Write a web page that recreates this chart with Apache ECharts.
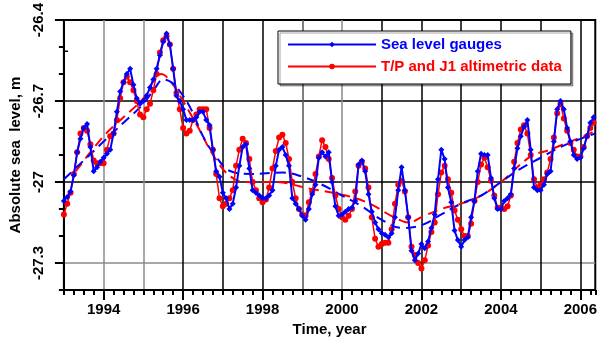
<!DOCTYPE html>
<html>
<head>
<meta charset="utf-8">
<script src="https://cdn.jsdelivr.net/npm/echarts@6/dist/echarts.min.js"></script>
<style>
html,body{margin:0;padding:0;background:#fff;}
#chart{width:600px;height:343px;}
</style>
</head>
<body>
<div id="chart"></div>
<script>
// ---- data (monthly values, starting January 1993) ----
const startYear = 1993;
const gauges = [
-27.07,-27.055,-27.035,-26.975,-26.89,-26.84,-26.80,-26.785,-26.87,-26.96,-26.945,-26.925,
-26.91,-26.895,-26.88,-26.82,-26.74,-26.665,-26.63,-26.60,-26.58,-26.64,-26.69,-26.71,
-26.70,-26.68,-26.65,-26.62,-26.58,-26.53,-26.48,-26.45,-26.49,-26.58,-26.68,-26.70,
-26.73,-26.77,-26.77,-26.77,-26.76,-26.74,-26.74,-26.77,-26.79,-26.88,-26.96,-26.98,
-27.04,-27.06,-27.10,-27.08,-27.02,-26.94,-26.87,-26.86,-26.95,-27.03,-27.04,-27.05,
-27.06,-27.06,-27.05,-27.03,-26.94,-26.88,-26.87,-26.90,-26.94,-27.06,-27.08,-27.10,
-27.125,-27.14,-27.10,-27.045,-27.01,-26.91,-26.89,-26.905,-26.89,-27.00,-27.09,-27.125,
-27.12,-27.11,-27.10,-27.095,-27.07,-26.935,-26.92,-26.96,-27.045,-27.11,-27.15,-27.175,
-27.19,-27.195,-27.205,-27.19,-27.13,-27.03,-26.945,-27.03,-27.13,-27.255,-27.29,-27.265,
-27.23,-27.245,-27.22,-27.17,-27.12,-26.99,-26.88,-26.915,-27.02,-27.075,-27.18,-27.215,
-27.24,-27.215,-27.205,-27.13,-27.07,-26.96,-26.895,-26.90,-26.90,-26.985,-27.06,-27.10,
-27.10,-27.07,-27.06,-27.045,-26.95,-26.875,-26.83,-26.795,-26.77,-26.88,-27.02,-27.03,
-27.03,-27.01,-26.97,-26.96,-26.85,-26.73,-26.70,-26.73,-26.80,-26.85,-26.90,-26.915,
-26.91,-26.875,-26.83,-26.78,-26.76
];
const altimetry = [
-27.12,-27.08,-27.04,-26.97,-26.89,-26.82,-26.80,-26.81,-26.86,-26.92,-26.93,-26.93,
-26.93,-26.88,-26.83,-26.82,-26.77,-26.69,-26.63,-26.61,-26.63,-26.66,-26.70,-26.75,
-26.76,-26.73,-26.71,-26.66,-26.60,-26.52,-26.475,-26.46,-26.49,-26.58,-26.67,-26.73,
-26.80,-26.82,-26.81,-26.77,-26.75,-26.73,-26.73,-26.73,-26.80,-26.88,-26.97,-27.06,
-27.09,-27.08,-27.06,-27.03,-26.94,-26.88,-26.84,-26.855,-26.915,-27.00,-27.03,-27.06,
-27.075,-27.065,-27.02,-26.95,-26.885,-26.835,-26.825,-26.855,-26.915,-27.00,-27.06,-27.10,
-27.12,-27.125,-27.075,-27.035,-26.97,-26.905,-26.845,-26.87,-26.915,-26.985,-27.05,-27.10,
-27.13,-27.14,-27.125,-27.10,-27.035,-26.94,-26.925,-26.95,-27.02,-27.13,-27.21,-27.24,
-27.23,-27.225,-27.225,-27.175,-27.08,-27.01,-26.995,-27.035,-27.13,-27.24,-27.27,-27.30,
-27.32,-27.29,-27.235,-27.185,-27.15,-27.045,-26.965,-26.94,-26.99,-27.04,-27.105,-27.14,
-27.175,-27.20,-27.20,-27.155,-27.07,-27.00,-26.935,-26.91,-26.945,-26.995,-27.05,-27.095,
-27.095,-27.10,-27.09,-27.05,-26.925,-26.855,-26.805,-26.79,-26.82,-26.90,-26.99,-27.02,
-27.01,-26.99,-26.965,-26.915,-26.835,-26.745,-26.71,-26.765,-26.81,-26.855,-26.88,-26.905,
-26.905,-26.87,-26.83,-26.80,-26.78
];
// smoothed trend curves [year, value]
const gaugesTrend = [
[1993.0,-26.99],[1993.5,-26.92],[1994.0,-26.85],[1994.5,-26.78],[1995.0,-26.71],[1995.3,-26.65],
[1995.5,-26.62],[1995.7,-26.63],[1995.9,-26.66],[1996.2,-26.73],[1996.5,-26.83],[1996.8,-26.90],
[1997.2,-26.96],[1997.7,-26.97],[1998.5,-26.965],[1999.0,-26.98],[1999.5,-27.01],[2000.0,-27.05],
[2000.5,-27.09],[2001.0,-27.14],[2001.5,-27.17],[2002.0,-27.16],[2002.5,-27.12],[2003.0,-27.08],
[2003.5,-27.05],[2004.0,-27.00],[2004.5,-26.95],[2005.0,-26.91],[2005.5,-26.87],[2006.0,-26.84],
[2006.375,-26.82]
];
const altimetryTrend = [
[1993.3,-26.96],[1994.0,-26.83],[1994.5,-26.76],[1995.0,-26.69],[1995.45,-26.60],[1995.7,-26.63],
[1996.0,-26.70],[1996.35,-26.79],[1996.8,-26.91],[1997.2,-26.98],[1997.6,-27.00],[1998.3,-27.00],
[1999.2,-27.025],[2000.1,-27.05],[2000.7,-27.08],[2001.3,-27.13],[2001.7,-27.15],[2002.0,-27.13],
[2002.5,-27.10],[2003.0,-27.08],[2003.5,-27.05],[2004.0,-27.00],[2004.75,-26.905],[2005.25,-26.88],
[2005.65,-26.855],[2006.1,-26.83],[2006.375,-26.81]
];
const xLabelYears = [1994,1996,1998,2000,2002,2004,2006];
const yLabelValues = [-27.3,-27,-26.7,-26.4];
const seriesNames = ['Sea level gauges','T/P and J1 altimetric data'];
const axisTitles = {x:'Time, year', y:'Absolute sea  level, m'};

// ---- chart ----
const X_MIN = 1993, X_MAX = 2006.375, Y_MIN = -27.4, Y_MAX = -26.4;
const BLUE = '#0000ff', RED = '#ff0000';
const font = 'Arial, "Liberation Sans", sans-serif';
const yearGrid = ['rgba(0,0,0,0)','#8a8a8a','#8a8a8a','#000','#000','#000','#555','#8a8a8a','#000','#000','#000','#000','#000','#000'];
const yGridColors = ['rgba(0,0,0,0)','#8a8a8a','rgba(0,0,0,0)','rgba(0,0,0,0)','#000','rgba(0,0,0,0)','rgba(0,0,0,0)','#000','rgba(0,0,0,0)','rgba(0,0,0,0)','rgba(0,0,0,0)'];

const toPairs = arr => arr.map((v,i)=>[startYear + i/12, v]);

const chart = echarts.init(document.getElementById('chart'), null, {renderer:'canvas'});
chart.setOption({
  animation:false,
  backgroundColor:'#fff',
  grid:{left:62, top:18, right:3, bottom:53, show:true, borderColor:'#000', borderWidth:2, backgroundColor:'transparent'},
  xAxis:[
    {type:'value', min:X_MIN, max:X_MAX, interval:1, position:'bottom',
     axisLine:{show:true, lineStyle:{color:'#000', width:2}},
     axisTick:{show:true, customValues:xLabelYears, length:10, lineStyle:{color:'#000', width:2}},
     axisLabel:{customValues:xLabelYears, formatter:v=>String(Math.round(v)), color:'#000', fontFamily:font, fontWeight:'bold', fontSize:15, margin:12},
     splitLine:{show:false},
     name:axisTitles.x, nameLocation:'middle', nameGap:29,
     nameTextStyle:{color:'#000', fontFamily:font, fontWeight:'bold', fontSize:15}},
    {type:'value', min:X_MIN, max:X_MAX, interval:0.25, position:'bottom', offset:0,
     axisLine:{show:false}, axisLabel:{show:false},
     axisTick:{show:true, length:5, lineStyle:{color:'#000', width:2}},
     splitLine:{show:false}},
    {type:'value', min:X_MIN, max:X_MAX, interval:1, position:'bottom', offset:0,
     axisLine:{show:false}, axisLabel:{show:false}, axisTick:{show:false},
     splitLine:{show:true, lineStyle:{color:yearGrid, width:1.5}}}
  ],
  yAxis:[
    {type:'value', min:Y_MIN, max:Y_MAX, interval:0.1, position:'left',
     axisLine:{show:true, lineStyle:{color:'#000', width:2}},
     axisTick:{show:true, customValues:yLabelValues, length:9, lineStyle:{color:'#000', width:2}},
     axisLabel:{customValues:yLabelValues, formatter:v=>String(Math.round(v*10)/10), rotate:90, color:'#000', fontFamily:font, fontWeight:'bold', fontSize:15, margin:18},
     splitLine:{show:false},
     name:axisTitles.y, nameLocation:'middle', nameGap:38,
     nameTextStyle:{color:'#000', fontFamily:font, fontWeight:'bold', fontSize:15}},
    {type:'value', min:Y_MIN, max:Y_MAX, interval:0.1, position:'left', offset:0,
     axisLine:{show:false}, axisLabel:{show:false},
     axisTick:{show:true, length:5, lineStyle:{color:'#000', width:2}},
     splitLine:{show:true, lineStyle:{color:yGridColors, width:1.5}}}
  ],
  legend:{
    orient:'vertical', left:278, top:31,
    data:[
      {name:seriesNames[0], textStyle:{color:BLUE}},
      {name:seriesNames[1], textStyle:{color:RED}}
    ],
    itemWidth:88, itemHeight:7, itemGap:7,
    padding:[6,9,10,9],
    backgroundColor:'#fff', borderColor:'#000', borderWidth:1, borderRadius:0,
    shadowColor:'rgba(0,0,0,0.35)', shadowOffsetX:2, shadowOffsetY:2, shadowBlur:0,
    textStyle:{fontFamily:font, fontWeight:'bold', fontSize:15}
  },
  graphic:[{type:'rect', shape:{x:65, y:50.5, width:3, height:1.5}, style:{fill:'#000'}}],
  series:[
    {name:'altimetry-trend', type:'line', data:altimetryTrend, smooth:0.4, showSymbol:false, symbol:'none',
     lineStyle:{color:RED, width:2, type:[10,6]}, z:2, silent:true},
    {name:'gauges-trend', type:'line', data:gaugesTrend, smooth:0.4, showSymbol:false, symbol:'none',
     lineStyle:{color:BLUE, width:2, type:[10,6]}, z:2, silent:true},
    {name:seriesNames[1], type:'line', data:toPairs(altimetry), symbol:'circle', symbolSize:6,
     itemStyle:{color:RED}, lineStyle:{color:RED, width:1.5}, z:3},
    {name:seriesNames[0], type:'line', data:toPairs(gauges), symbol:'diamond', symbolSize:6,
     itemStyle:{color:BLUE}, lineStyle:{color:BLUE, width:2}, z:4}
  ]
});
</script>
</body>
</html>
